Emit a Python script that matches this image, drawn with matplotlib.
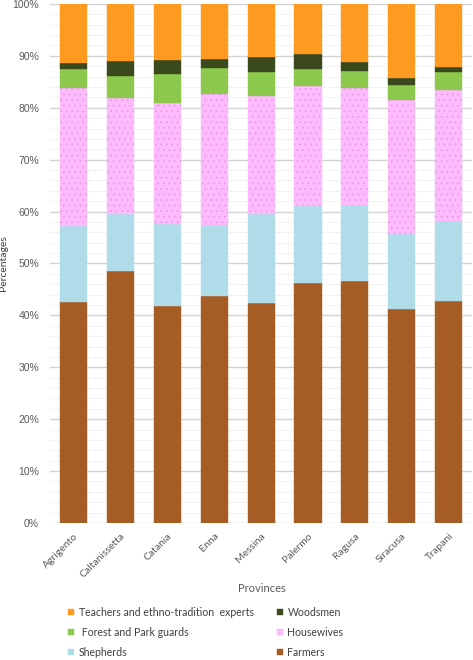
import numpy as np
import matplotlib.pyplot as plt
from matplotlib.ticker import MultipleLocator, PercentFormatter

plt.rcParams['font.family'] = ['Lato', 'DejaVu Sans']
plt.rcParams['hatch.linewidth'] = 0.5

provinces = ["Agrigento", "Caltanissetta", "Catania", "Enna", "Messina",
             "Palermo", "Ragusa", "Siracusa", "Trapani"]

farmers    = [42.5, 48.6, 41.8, 43.7, 42.4, 46.3, 46.7, 41.3, 42.7]
shepherds  = [14.7, 11.0, 15.9, 13.8, 17.1, 14.8, 14.6, 14.3, 15.4]
housewives = [26.6, 22.3, 23.2, 25.1, 22.8, 23.0, 22.5, 25.8, 25.3]
forest     = [3.6, 4.2, 5.7, 5.1, 4.5, 3.3, 3.2, 2.9, 3.4]
woodsmen   = [1.2, 2.9, 2.6, 1.7, 3.0, 2.9, 1.8, 1.4, 1.1]
teachers   = [11.4, 11.0, 10.8, 10.6, 10.2, 9.7, 11.2, 14.3, 12.1]

# name, values, fill colour, dot colour (None = plain)
series = [
    ("Farmers", farmers, "#A65D25", None),
    ("Shepherds", shepherds, "#B0DCEA", None),
    ("Housewives", housewives, "#FDBAFC", "#E59AE0"),
    (" Forest and Park guards", forest, "#8CC84B", None),
    ("Woodsmen", woodsmen, "#3A4A1C", None),
    ("Teachers and ethno-tradition  experts", teachers, "#FE9A1F", None),
]

fig = plt.figure(figsize=(4.73, 6.6), dpi=100)
ax = fig.add_axes([0.106, 0.2076, 0.892, 0.7864])

x = np.arange(len(provinces))
bottom = np.zeros(len(provinces))
handles = {}
for name, vals, color, dots in series:
    vals = np.array(vals)
    b = ax.bar(x, vals, width=0.58, bottom=bottom, color=color,
               edgecolor=color, linewidth=0.3, zorder=3)
    if dots:
        # fine dotted texture on top of the fill
        ax.bar(x, vals, width=0.58, bottom=bottom, color="none",
               hatch="...", edgecolor=dots, linewidth=0, zorder=4)
    handles[name] = b
    bottom += vals

ax.set_xlim(-0.5, len(provinces) - 0.5)
ax.set_ylim(0, 100)
ax.yaxis.set_major_locator(MultipleLocator(10))
ax.yaxis.set_minor_locator(MultipleLocator(2))
ax.yaxis.set_major_formatter(PercentFormatter(decimals=0))
ax.grid(axis="y", which="major", color="#D4D4D4", linewidth=1.0, zorder=0)
ax.grid(axis="y", which="minor", color="#E8E8E8", linewidth=0.6,
        linestyle=(0, (2, 1)), zorder=0)
for s in ax.spines.values():
    s.set_visible(False)
ax.tick_params(axis="both", which="both", length=0)
ax.tick_params(axis="y", labelsize=7.5, labelcolor="#595959", pad=8)
for lab in ax.get_yticklabels():
    lab.set_family(["Liberation Sans", "DejaVu Sans"])

ax.set_xticks(x)
ax.set_xticklabels(provinces, rotation=45, ha="right", rotation_mode="anchor",
                   fontsize=7.5, color="#595959")
ax.tick_params(axis="x", pad=6)

ax.set_ylabel("Percentages", fontsize=7.5, color="#404040")
ax.yaxis.set_label_coords(-0.099, 0.5)
fig.text(0.554, 0.108, "Provinces", fontsize=8, color="#595959",
         ha="center", va="center")

order = ["Teachers and ethno-tradition  experts", " Forest and Park guards",
         "Shepherds", "Woodsmen", "Housewives", "Farmers"]
fig.legend([handles[n] for n in order], order, loc="upper left",
           bbox_to_anchor=(0.135, 0.087), ncol=2, frameon=False,
           fontsize=7.6, labelcolor="#404040", handlelength=0.6,
           handleheight=0.6, handletextpad=0.4, columnspacing=2.2,
           labelspacing=0.85, borderaxespad=0)

fig.savefig("out.png", dpi=100)
